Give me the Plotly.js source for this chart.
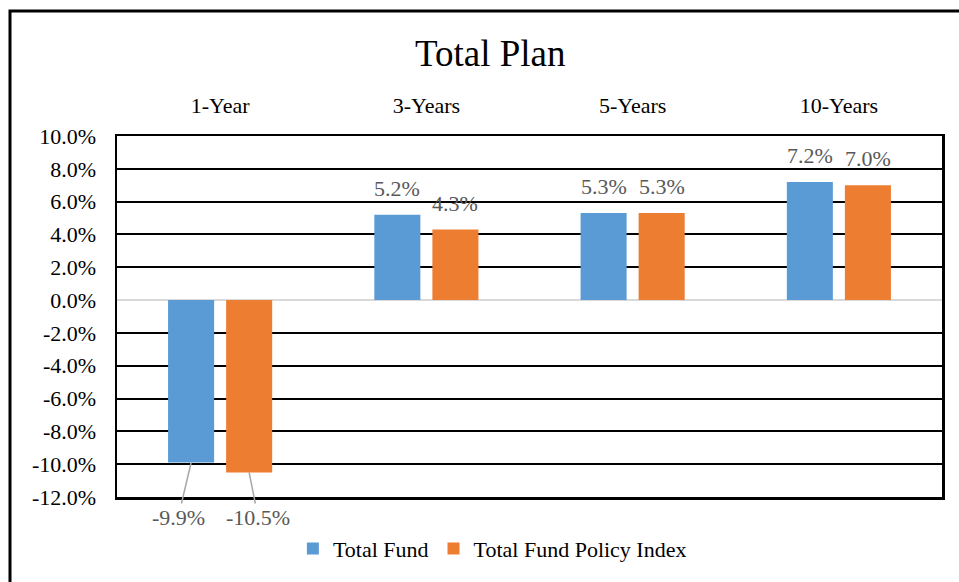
<!DOCTYPE html>
<html>
<head>
<meta charset="utf-8">
<script src="https://cdn.plot.ly/plotly-3.0.1.min.js"></script>
<style>html,body{margin:0;padding:0;background:#fff;}#chart{width:959px;height:582px;}</style>
</head>
<body>
<div id="chart"></div>
<script>
const categories = ["1-Year", "3-Years", "5-Years", "10-Years"];
const totalFund = [-9.9, 5.2, 5.3, 7.2];
const policyIndex = [-10.5, 4.3, 5.3, 7.0];
const seriesNames = ["Total Fund", "Total Fund Policy Index"];
const yTicks = [-12, -10, -8, -6, -4, -2, 0, 2, 4, 6, 8, 10];

const FONT = "Liberation Serif";
const FS = 22;
const BLUE = "#5B9BD5", ORANGE = "#ED7D31";

const traces = [
  {type: "bar", name: seriesNames[0], x: categories, y: totalFund, marker: {color: BLUE}, hoverinfo: "skip"},
  {type: "bar", name: seriesNames[1], x: categories, y: policyIndex, marker: {color: ORANGE}, hoverinfo: "skip"}
];

const annotations = [];
const series = [totalFund, policyIndex];
const offsets = [-29, 29];
const negLabelDx = [-13, 9];
series.forEach((vals, s) => {
  vals.forEach((v, i) => {
    const txt = v.toFixed(1) + "%";
    if (v >= 0) {
      annotations.push({x: categories[i], y: v, xref: "x", yref: "y", text: txt, showarrow: false,
        xshift: offsets[s], yshift: 12, yanchor: "bottom", font: {family: FONT, size: FS, color: "#595959"}});
    } else {
      annotations.push({x: categories[i], y: v, xref: "x", yref: "y", text: txt, showarrow: true,
        arrowhead: 0, arrowwidth: 1.5, arrowcolor: "#A6A6A6", axref: "pixel", ax: negLabelDx[s],
        ayref: "y", ay: -13.25, standoff: 0, startstandoff: 0,
        xshift: offsets[s], font: {family: FONT, size: FS, color: "#595959"}});
    }
  });
});
annotations.push({text: "Total Plan", xref: "paper", yref: "paper", x: (490 - 117) / 825, y: (500 - 53) / 364,
  xanchor: "center", yanchor: "middle",
  showarrow: false, font: {family: FONT, size: 37, color: "#000"}});

const layout = {
  width: 959, height: 582,
  margin: {l: 117, r: 17, t: 136, b: 82},
  paper_bgcolor: "#fff", plot_bgcolor: "#fff",
  font: {family: FONT, color: "#000", size: FS},
  barmode: "group", bargap: 0.437, bargroupgap: 0.207,
  showlegend: true,
  legend: {orientation: "h", x: 0.455, xanchor: "center", y: -0.085, yanchor: "top",
    font: {family: FONT, size: FS, color: "#000"}, itemwidth: 30, tracegroupgap: 0},
  xaxis: {side: "top", showgrid: false, ticks: "", ticklabelstandoff: 12,
    showline: true, mirror: true, linecolor: "#000", linewidth: 2.5,
    tickfont: {family: FONT, size: FS, color: "#000"}, fixedrange: true},
  yaxis: {range: [-12, 10], tickvals: yTicks, ticktext: yTicks.map(v => v.toFixed(1) + "%"),
    showgrid: true, gridcolor: "#000", gridwidth: 2,
    zeroline: true, zerolinecolor: "#D9D9D9", zerolinewidth: 2.5,
    showline: true, mirror: true, linecolor: "#000", linewidth: 2.5,
    ticks: "", ticklabelstandoff: 14, tickfont: {family: FONT, size: FS, color: "#000"}, fixedrange: true},
  annotations: annotations,
  shapes: [
    {type: "rect", xref: "paper", yref: "paper", x0: (10 - 117) / 825, x1: 1.2, y0: -0.6, y1: (500 - 10) / 364,
      line: {color: "#000", width: 3}, fillcolor: "rgba(0,0,0,0)", layer: "below"}
  ]
};

Plotly.newPlot("chart", traces, layout, {displayModeBar: false, staticPlot: true});
</script>
</body>
</html>
